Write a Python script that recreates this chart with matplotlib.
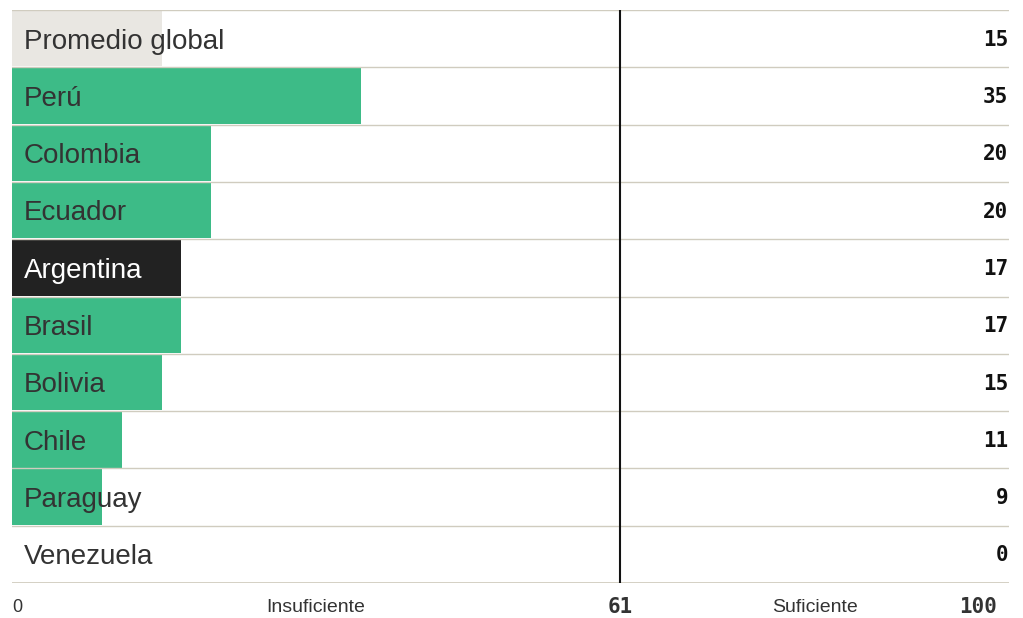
import matplotlib
matplotlib.use("Agg")
from matplotlib import pyplot as plt

# data
countries = ["Promedio global", "Perú", "Colombia", "Ecuador", "Argentina",
             "Brasil", "Bolivia", "Chile", "Paraguay", "Venezuela"]
scores = [15, 35, 20, 20, 17, 17, 15, 11, 9, 0]
kinds = ["avg", "c", "c", "c", "hl", "c", "c", "c", "c", "c"]
threshold = 61
x_max = 100
zone_labels = ["Insuficiente", "Suficiente"]

bar_colors = {"avg": "#e9e7e2", "c": "#3dbb87", "hl": "#222222"}
text_colors = {"avg": "#333333", "c": "#333333", "hl": "#ffffff"}
grid_color = "#d0ccbf"

fig = plt.figure(figsize=(10.23, 6.18), dpi=100)
ax = fig.add_axes([12 / 1023, 35 / 618, 997 / 1023, 573 / 618])
ax.set_xlim(0, x_max)
ax.set_ylim(len(countries), 0)
ax.axis("off")

for i, (name, val, kind) in enumerate(zip(countries, scores, kinds)):
    if val > 0:
        ax.barh(i + 0.5, val, height=0.97, left=0, color=bar_colors[kind], zorder=1)
    ax.text(1.2, i + 0.55, name, va="center", ha="left", fontsize=20,
            family="Liberation Sans", color=text_colors[kind], zorder=3)
    ax.text(x_max - 0.1, i + 0.52, str(val), va="center", ha="right", fontsize=15,
            family="DejaVu Sans Mono", fontweight="bold", color="#111111", zorder=3)

# row separators
for j in range(len(countries) + 1):
    ax.axhline(j, color=grid_color, lw=2 if j == len(countries) else 1, zorder=2)

ax.axvline(threshold, color="#111111", lw=1.5, zorder=4)

# bottom scale
yb = len(countries) + 0.42
ax.text(0, yb, "0", ha="left", va="center", fontsize=13, family="Liberation Sans",
        color="#333333", clip_on=False)
ax.text(threshold / 2, yb, zone_labels[0], ha="center", va="center", fontsize=14,
        family="Liberation Sans", color="#333333", clip_on=False)
ax.text(threshold, yb, str(threshold), ha="center", va="center", fontsize=15,
        family="DejaVu Sans Mono", fontweight="bold", color="#333333", clip_on=False)
ax.text((threshold + x_max) / 2, yb, zone_labels[1], ha="center", va="center", fontsize=14,
        family="Liberation Sans", color="#333333", clip_on=False)
ax.text(x_max - 1.2, yb, str(x_max), ha="right", va="center", fontsize=15,
        family="DejaVu Sans Mono", fontweight="bold", color="#333333", clip_on=False)

fig.savefig("out.png", dpi=100)
